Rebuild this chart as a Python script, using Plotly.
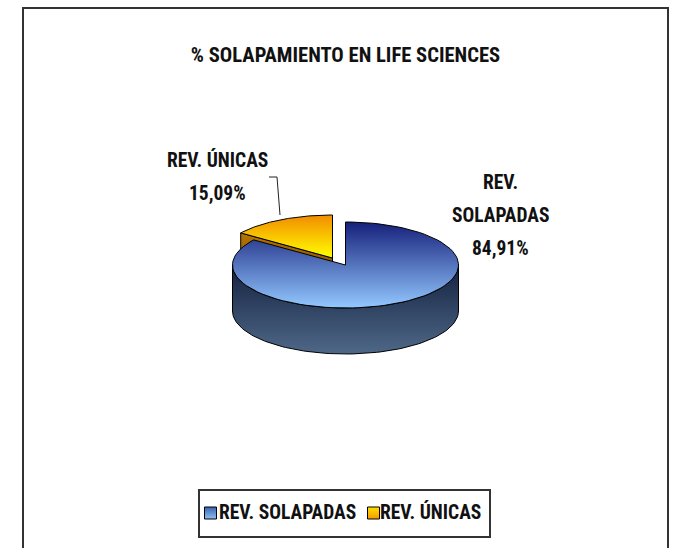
import math
import plotly.graph_objects as go

categories = ["REV. SOLAPADAS", "REV. ÚNICAS"]
values = [84.91, 15.09]
title_text = "% SOLAPAMIENTO EN LIFE SCIENCES"
label_lines = [["REV.", "SOLAPADAS"], ["REV. ÚNICAS"]]

W, H = 673, 548
FONT = "Roboto Condensed, Open Sans Condensed, Noto Sans Condensed, DejaVu Sans Condensed, Liberation Sans"
CX, CY, RX, RY, DEPTH = 345.5, 265, 113, 43, 46
EX, EY = -13, -7

def pt(theta, ox=0, oy=0):
    return (CX + ox + RX * math.sin(theta), CY + oy - RY * math.cos(theta))

def arc(a, b, ox=0, oy=0, n=90):
    return [pt(a + (b - a) * i / n, ox, oy) for i in range(n + 1)]

def poly(points):
    xs = [p[0] for p in points] + [points[0][0]]
    ys = [p[1] for p in points] + [points[0][1]]
    return xs, ys

split = 2 * math.pi * values[0] / sum(values)
fig = go.Figure()

def add(points, top, bottom):
    x, y = poly(points)
    fig.add_trace(go.Scatter(
        x=x, y=y, mode="lines", fill="toself", hoverinfo="skip", showlegend=False,
        line=dict(color="#000000", width=1),
        fillgradient=dict(type="vertical", colorscale=[[0, bottom], [1, top]]),
    ))

# small slice: cut face, then top
a = pt(split, EX, EY)
ap = (CX + EX, CY + EY)
add([ap, a, (a[0], a[1] + DEPTH), (ap[0], ap[1] + DEPTH)], "#b87400", "#5a3a00")
add([ap] + arc(split, 2 * math.pi, EX, EY), "#f28c00", "#ffff00")
# big slice: side, then top
front = arc(math.pi / 2, 3 * math.pi / 2)
back = arc(3 * math.pi / 2, math.pi / 2, 0, DEPTH)
add(front + back, "#14213f", "#4f6888")
add([(CX, CY)] + arc(0, split), "#16207a", "#93c8ff")

# leader line
fig.add_trace(go.Scatter(x=[269, 277, 280], y=[177, 177, 215], mode="lines", showlegend=False,
                         hoverinfo="skip", line=dict(color="#222", width=1)))

# legend swatches
for name, sx, top, bottom in [(categories[0], 210.5, "#3a62b0", "#8fc0f5"), (categories[1], 373.5, "#ffe000", "#f59a00")]:
    fig.add_trace(go.Scatter(
        x=[sx], y=[513], mode="markers", name=name, showlegend=False, hoverinfo="skip",
        marker=dict(symbol="square", size=12, color=top, line=dict(color="#000", width=1),
                    gradient=dict(type="vertical", color=bottom)),
    ))

def pct(v):
    return f"{v:.2f}".replace(".", ",") + "%"

fs = 19.5
ann = []
for i, line in enumerate(label_lines[0] + [pct(values[0])]):
    ann.append(dict(x=500, y=182 + 33 * i, text=f"<b>{line}</b>", xanchor="center"))
for i, line in enumerate(label_lines[1] + [pct(values[1])]):
    ann.append(dict(x=217, y=160 + 33 * i, text=f"<b>{line}</b>", xanchor="center"))
ann.append(dict(x=217, y=512, text=f"<b>{categories[0]}</b>", xanchor="left"))
ann.append(dict(x=378, y=512, text=f"<b>{categories[1]}</b>", xanchor="left"))
for an in ann:
    an.update(xref="x", yref="y", showarrow=False, yanchor="middle",
              font=dict(family=FONT, size=fs, color="#111"))

fig.update_layout(
    width=W, height=H, margin=dict(l=0, r=0, t=0, b=0), showlegend=False,
    paper_bgcolor="white", plot_bgcolor="white",
    xaxis=dict(range=[0, W], visible=False, fixedrange=True),
    yaxis=dict(range=[H, 0], visible=False, fixedrange=True),
    title=dict(text=f"<b>{title_text}</b>", x=345.5 / W, xanchor="center", y=1 - 55 / H, yanchor="middle",
               font=dict(family=FONT, size=20.6, color="#111")),
    annotations=ann,
    shapes=[dict(type="path", xref="x", yref="y", path="M 23 560 L 23 8 L 668 8 L 668 560",
                 line=dict(color="#333", width=2)),
            dict(type="rect", xref="x", yref="y", x0=199, x1=490, y0=490, y1=537,
                 line=dict(color="#333", width=2))],
)
fig.write_html("out.html", post_script="document.body.style.margin='0';",
               config=dict(displayModeBar=False))
